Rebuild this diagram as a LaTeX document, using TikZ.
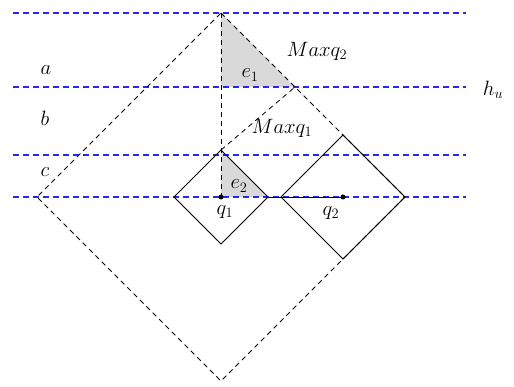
\documentclass[tikz,border=0pt]{standalone}
\begin{document}
\begin{tikzpicture}[
                x=1pt,
                y=-1pt,
                level/.style={
                    line width=1.1pt,
                    dashed,
                    dash pattern=on 6pt off 4pt,
                    color={rgb,255:red,40;green,40;blue,235}
                },
                bound/.style={
                    line width=0.8pt,
                    dashed,
                    dash pattern=on 5pt off 4pt
                },
                query/.style={
                    line width=0.9pt
                },
                region/.style={
                    fill=gray!30
                },
                dot/.style={
                    circle,
                    fill=black,
                    minimum size=5pt,
                    inner sep=0pt
                },
                lbl/.style={
                    font=\huge
                }
            ]

                \useasboundingbox (0,0) rectangle (514,387);

                % corners of the big diamond
                \node[coordinate] (top) at (221,13) {};
                \node[coordinate] (left) at (37,197) {};
                \node[coordinate] (bottom) at (221,381) {};
                \node[coordinate] (right) at (405,197) {};

                % diamond of q1
                \node[coordinate] (q1c) at (221,197) {};
                \node[coordinate] (q1t) at (221,150) {};
                \node[coordinate] (q1l) at (174,197) {};
                \node[coordinate] (q1r) at (268,197) {};
                \node[coordinate] (q1b) at (221,244) {};

                % diamond of q2
                \node[coordinate] (q2c) at (343,197) {};
                \node[coordinate] (q2t) at (343,135) {};
                \node[coordinate] (q2l) at (281,197) {};
                \node[coordinate] (q2b) at (343,259) {};

                % where the bounds cross h_u
                \node[coordinate] (hux) at (295,87) {};
                \node[coordinate] (huv) at (221,87) {};

                \fill[region] (top) -- (huv) -- (hux) -- cycle;
                \fill[region] (q1t) -- (q1c) -- (q1r) -- cycle;

                % horizontal levels
                \node[coordinate] (l1) at (13,13) {};
                \node[coordinate] (r1) at (466,13) {};
                \node[coordinate] (l2) at (13,87) {};
                \node[coordinate] (r2) at (466,87) {};
                \node[coordinate] (l3) at (13,155) {};
                \node[coordinate] (r3) at (466,155) {};
                \node[coordinate] (l4) at (13,197) {};
                \node[coordinate] (r4) at (466,197) {};

                \draw[level] (l1) -- (r1);
                \draw[level] (l2) -- (r2);
                \draw[level] (l3) -- (r3);
                \draw[level] (l4) -- (r4);

                \draw[query] (q1t) -- (q1r) -- (q1b) -- (q1l) -- cycle;
                \draw[query] (q2t) -- (right) -- (q2b) -- (q2l) -- cycle;
                \draw[query] (q1r) -- (q2c);

                \draw[bound] (top) -- (right) -- (bottom) -- (left) -- cycle;
                \draw[bound] (top) -- (q1c);
                \draw[bound] (q1t) -- (hux);

                \node[dot] (q1) at (q1c) {};
                \node[dot] (q2) at (q2c) {};

                \node[lbl] (la) at (46,70) {$a$};
                \node[lbl] (lb) at (45,118) {$b$};
                \node[lbl] (lc) at (45,172) {$c$};
                \node[lbl] (hu) at (493,90) {$h_u$};
                \node[lbl] (max2) at (317,51) {$Maxq_2$};
                \node[lbl] (max1) at (282,128) {$Maxq_1$};
                \node[lbl] (e1) at (250,75) {$e_1$};
                \node[lbl] (e2) at (239,186) {$e_2$};
                \node[lbl] (lq1) at (225,212) {$q_1$};
                \node[lbl] (lq2) at (331,213) {$q_2$};

            \end{tikzpicture}
\end{document}
